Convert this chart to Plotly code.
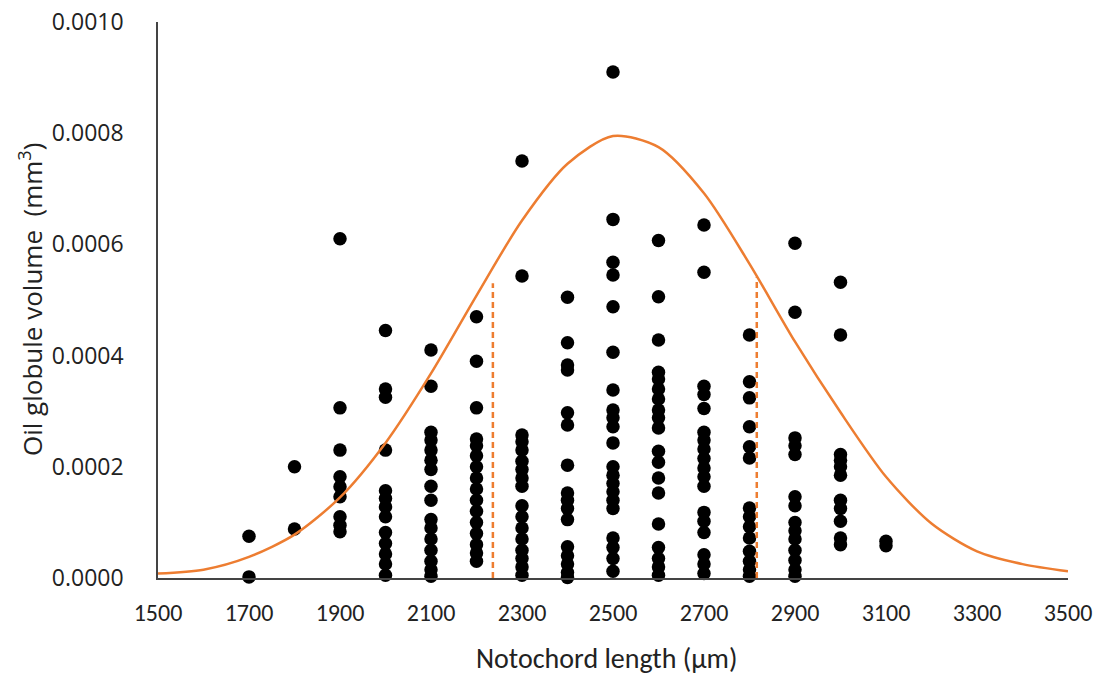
import plotly.graph_objects as go

# Scatter data: notochord length (µm) -> oil globule volumes (mm³)
lengths = [1700, 1800, 1900, 2000, 2100, 2200, 2300, 2400, 2500, 2600, 2700, 2800, 2900, 3000, 3100]
v1700 = [0.000075, 0.000002]
v1800 = [0.0002, 0.000088]
v1900 = [0.00061, 0.000306, 0.00023, 0.000182, 0.000164, 0.000146, 0.00011, 0.000095, 0.000083]
v2000 = [0.000445, 0.00034, 0.000325, 0.00023, 0.000157, 0.000143, 0.000128, 0.00011, 0.000082,
         0.000062, 0.000043, 0.000025, 0.000005]
v2100 = [0.00041, 0.000345, 0.000262, 0.000248, 0.00023, 0.000212, 0.000195, 0.000165, 0.00014,
         0.000105, 0.00009, 0.00007, 0.00005, 0.00003, 0.000015, 0.000003]
v2200 = [0.00047, 0.00039, 0.000306, 0.00025, 0.000238, 0.00022, 0.0002, 0.00018, 0.00016, 0.00014,
         0.00012, 0.0001, 0.00008, 0.00006, 0.000045, 0.00003]
v2300 = [0.00075, 0.000543, 0.000257, 0.000245, 0.00023, 0.00021, 0.000195, 0.00018, 0.000165,
         0.00013, 0.00011, 0.00009, 0.00007, 0.00005, 0.000035, 0.00002, 0.000005]
v2400 = [0.000505, 0.000423, 0.000383, 0.000374, 0.000297, 0.000275, 0.000203, 0.000153, 0.00014,
         0.000125, 0.000105, 0.000056, 0.00004, 0.000025, 0.00001, 0.000001]
v2500 = [0.00091, 0.000645, 0.000568, 0.000545, 0.000488, 0.000406, 0.000338, 0.000302, 0.000288,
         0.000272, 0.000243, 0.0002, 0.000185, 0.00017, 0.000155, 0.00014, 0.000125, 0.000072,
         0.000055, 0.000035, 0.000012]
v2600 = [0.000607, 0.000506, 0.000428, 0.00037, 0.000358, 0.00034, 0.000322, 0.000302, 0.000288,
         0.00027, 0.000228, 0.000208, 0.00018, 0.000153, 0.000097, 0.000055, 0.000035, 0.00002, 0.000005]
v2700 = [0.000635, 0.00055, 0.000345, 0.00033, 0.000305, 0.000262, 0.000248, 0.000232, 0.000215,
         0.000198, 0.000182, 0.000165, 0.000118, 0.000102, 0.000082, 0.000042, 0.000025, 0.000008]
v2800 = [0.000437, 0.000353, 0.000324, 0.000272, 0.000236, 0.000216, 0.000126, 0.00011, 0.000092,
         0.000072, 0.000048, 0.00003, 0.000015, 0.000003]
v2900 = [0.000602, 0.000478, 0.000252, 0.000238, 0.000222, 0.000146, 0.00013, 0.0001, 0.000085,
         0.00007, 0.00005, 0.000032, 0.000015, 0.000003]
v3000 = [0.000532, 0.000437, 0.000222, 0.000212, 0.0002, 0.000185, 0.00014, 0.000125, 0.000102,
         0.000072, 0.00006]
v3100 = [0.000066, 0.000058]
volumes = [v1700, v1800, v1900, v2000, v2100, v2200, v2300, v2400, v2500, v2600, v2700, v2800,
           v2900, v3000, v3100]

# Normal-shaped reference curve
curve_x = [1500, 1600, 1700, 1800, 1900, 2000, 2100, 2200, 2300, 2400, 2500, 2600, 2700, 2800,
           2900, 3000, 3100, 3200, 3300, 3400, 3500]
curve_y = [0.000008, 0.000015, 0.000038, 0.000078, 0.000145, 0.000243, 0.000368, 0.000508,
           0.000643, 0.000745, 0.000795, 0.000775, 0.000692, 0.000565, 0.000425, 0.000298,
           0.000182, 0.000098, 0.000048, 0.000025, 0.000012]

# Dashed limits
limit_x = [2236, 2816]
limit_top = [0.00053, 0.000541]

xs, ys = [], []
for L, vals in zip(lengths, volumes):
    for v in vals:
        xs.append(L)
        ys.append(v)

orange = "#ED7D31"
fig = go.Figure()
fig.add_trace(go.Scatter(x=xs, y=ys, mode="markers",
                         marker=dict(color="black", size=13.5), cliponaxis=False,
                         showlegend=False))
for lx, ly in zip(limit_x, limit_top):
    fig.add_trace(go.Scatter(x=[lx, lx], y=[0, ly], mode="lines",
                             line=dict(color=orange, width=2.5, dash="6px,4px"),
                             showlegend=False))
fig.add_trace(go.Scatter(x=curve_x, y=curve_y, mode="lines",
                         line=dict(color=orange, width=2.5, shape="spline", smoothing=0.8),
                         showlegend=False))

xfont = "Carlito, Liberation Sans Narrow, Lato, sans-serif"
yfont = "Open Sans, DejaVu Sans, sans-serif"

fig.update_layout(
    width=1106, height=681,
    margin=dict(l=158, r=38, t=22, b=103),
    plot_bgcolor="white", paper_bgcolor="white",
    font=dict(family=yfont, color="#222"),
    annotations=[
        dict(text="Notochord length (µm)", xref="paper", yref="paper",
             x=(606 - 158) / 910, y=-(658 - 578) / 556, xanchor="center", yanchor="middle",
             showarrow=False, font=dict(family=xfont, size=28, color="#222")),
        dict(text="Oil globule volume  (mm<sup>3</sup>)", xref="paper", yref="paper",
             x=-(158 - 31) / 910, y=(578 - 300) / 556, xanchor="center", yanchor="middle",
             textangle=-90, showarrow=False, font=dict(family=yfont, size=26, color="#222")),
    ],
)
fig.update_xaxes(range=[1500, 3500], dtick=200, tick0=1500, showgrid=False, zeroline=False,
                 showline=True, linecolor="#444", linewidth=1.5, ticks="", ticklabelstandoff=12,
                 automargin=False,
                 tickfont=dict(family=xfont, size=24, color="#222"))
fig.update_yaxes(range=[0, 0.001], dtick=0.0002, tickformat=".4f", showgrid=False, zeroline=False,
                 showline=True, linecolor="#444", linewidth=1.5, ticks="", ticklabelstandoff=28,
                 automargin=False,
                 tickfont=dict(family=yfont, size=23, color="#222"))

fig.write_html("out.html")
